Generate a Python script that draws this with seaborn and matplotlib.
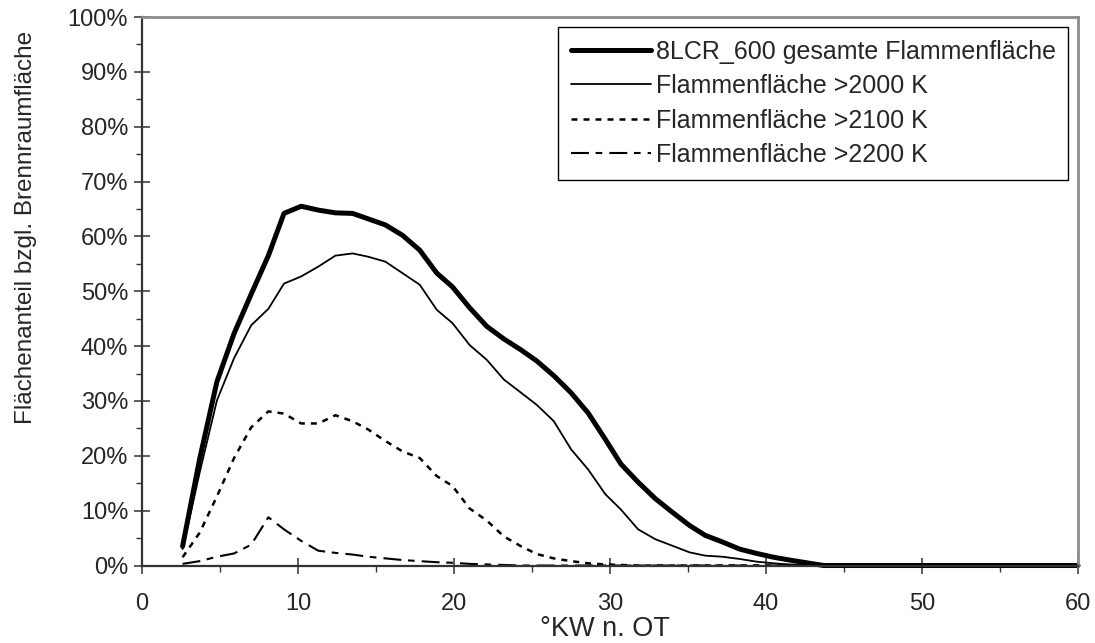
import numpy as np
import pandas as pd
import seaborn as sns
import matplotlib.pyplot as plt
from matplotlib.ticker import MultipleLocator, PercentFormatter

# Kurbelwinkel (°KW n. OT)
kw = [2.6, 3.7, 4.8, 5.9, 7.0, 8.1, 9.1, 10.2, 11.3, 12.4, 13.5, 14.5, 15.6, 16.7,
      17.8, 18.9, 19.9, 21.0, 22.1, 23.2, 24.3, 25.3, 26.4, 27.5, 28.6, 29.7, 30.7,
      31.8, 32.9, 34.0, 35.1, 36.1, 37.2, 38.3, 39.4, 40.5, 41.5, 42.6, 43.7, 44.8, 60.0]

# Flächenanteil in %
gesamt = [3.5, 19.5, 33.5, 42.3, 49.5, 56.5, 64.2, 65.5, 64.8, 64.3, 64.2, 63.2, 62.1, 60.2,
          57.5, 53.3, 50.8, 47.0, 43.6, 41.3, 39.3, 37.3, 34.6, 31.5, 27.8, 23.0, 18.5,
          15.2, 12.2, 9.7, 7.3, 5.5, 4.3, 3.0, 2.2, 1.5, 1.0, 0.5, 0.0, 0.0, 0.0]
t2000 = [3.0, 17.0, 30.1, 37.8, 43.8, 46.8, 51.4, 52.7, 54.5, 56.5, 56.9, 56.3, 55.4, 53.3,
         51.2, 46.6, 44.2, 40.2, 37.5, 33.9, 31.5, 29.3, 26.3, 21.2, 17.5, 13.0, 10.2,
         6.6, 4.8, 3.6, 2.4, 1.8, 1.6, 1.2, 0.7, 0.4, 0.2, 0.1, 0.0, 0.0, 0.0]
t2100 = [1.5, 6.0, 12.6, 19.6, 25.2, 28.1, 27.7, 25.9, 25.9, 27.4, 26.3, 24.8, 22.7, 20.8,
         19.6, 16.3, 14.5, 10.4, 8.2, 5.3, 3.5, 2.1, 1.3, 0.8, 0.4, 0.2, 0.1,
         0.0, 0.0, 0.0, 0.0, 0.0, 0.0, 0.0, 0.0, 0.0, 0.0, 0.0, 0.0, 0.0, 0.0]
t2200 = [0.3, 0.8, 1.6, 2.2, 3.8, 8.8, 6.6, 4.5, 2.7, 2.3, 2.0, 1.6, 1.3, 1.0,
         0.8, 0.6, 0.5, 0.3, 0.2, 0.1, 0.0, 0.0, 0.0, 0.0, 0.0, 0.0, 0.0,
         0.0, 0.0, 0.0, 0.0, 0.0, 0.0, 0.0, 0.0, 0.0, 0.0, 0.0, 0.0, 0.0, 0.0]

labels = ["8LCR_600 gesamte Flammenfläche", "Flammenfläche >2000 K",
          "Flammenfläche >2100 K", "Flammenfläche >2200 K"]

df = pd.DataFrame({"kw": kw, labels[0]: gesamt, labels[1]: t2000,
                   labels[2]: t2100, labels[3]: t2200})

sns.set_style("ticks")
plt.rcParams["font.family"] = ["Liberation Sans", "DejaVu Sans"]

fig = plt.figure(figsize=(10.95, 6.43), dpi=100)
ax = fig.add_axes([0.1297, 0.1205, 0.8548, 0.853])

styles = [dict(lw=3.6, ls="-"),
          dict(lw=1.3, ls="-"),
          dict(lw=1.8, ls=(0, (2.4, 2.4))),
          dict(lw=1.5, ls=(0, (8.6, 3.2, 3.2, 3.4)))]
for lab, st in zip(labels, styles):
    sns.lineplot(data=df, x="kw", y=lab, ax=ax, color="black", estimator=None,
                 label=lab, linewidth=st["lw"], linestyle=st["ls"], clip_on=False)

ax.set_xlim(0, 60)
ax.set_ylim(0, 100)
ax.xaxis.set_major_locator(MultipleLocator(10))
ax.xaxis.set_minor_locator(MultipleLocator(5))
ax.yaxis.set_major_locator(MultipleLocator(10))
ax.yaxis.set_minor_locator(MultipleLocator(5))
ax.yaxis.set_major_formatter(PercentFormatter(xmax=100, decimals=0))

ax.tick_params(which="major", direction="inout", length=11, width=1.1,
               color="#333333", labelsize=17)
ax.tick_params(axis="x", which="major", pad=14)
ax.tick_params(axis="y", which="major", pad=4.5)
ax.tick_params(which="minor", direction="out", length=4, width=1.0, color="#333333")

for side in ["left", "bottom"]:
    ax.spines[side].set_color("#333333")
    ax.spines[side].set_linewidth(1.6)
for side in ["top", "right"]:
    ax.spines[side].set_visible(True)
    ax.spines[side].set_color("#8c8c8c")
    ax.spines[side].set_linewidth(2.0)

ax.set_xlabel("°KW n. OT", fontsize=19.5, va="top")
ax.xaxis.set_label_coords(0.495, -0.092)
ax.set_ylabel("Flächenanteil bzgl. Brennraumfläche", fontsize=17.5)
ax.yaxis.set_label_coords(-0.112, 0.616)

leg = ax.legend(loc="upper right", bbox_to_anchor=(0.9894, 0.9818), borderaxespad=0,
                fontsize=18, frameon=True, fancybox=False, framealpha=1,
                edgecolor="black", handlelength=3.2, handletextpad=0.2,
                labelspacing=0.42, borderpad=0.5)
leg.get_frame().set_linewidth(1.0)

fig.savefig("out.png", dpi=100)
